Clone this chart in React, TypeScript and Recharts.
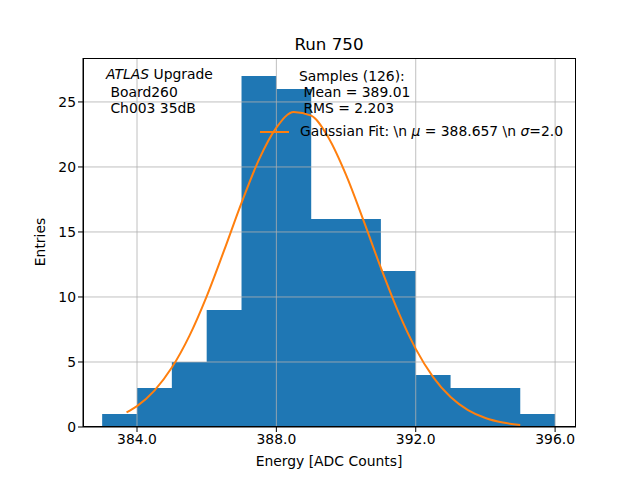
import React from 'react';
import { ComposedChart, Area, Line, XAxis, YAxis, ReferenceLine } from 'recharts';

// histogram bins (width 1 ADC count)
const binEdges = [383, 384, 385, 386, 387, 388, 389, 390, 391, 392, 393, 394, 395, 396];
const binCounts = [1, 3, 5, 9, 27, 26, 16, 16, 12, 4, 3, 3, 1];

// gaussian fit curve
const fitX = [383.7, 384.0, 384.5, 385.0, 385.5, 386.0, 386.5, 387.0, 387.5, 388.0, 388.5, 389.0,
    389.5, 390.0, 390.5, 391.0, 391.5, 392.0, 392.5, 393.0, 393.5, 394.0, 394.5, 395.0];
const fitY = [1.13, 1.61, 2.8, 4.57, 6.99, 10.05, 13.58, 17.24, 20.56, 23.02, 24.23, 23.95,
    22.23, 19.39, 15.89, 12.24, 8.85, 6.01, 3.84, 2.3, 1.3, 0.69, 0.34, 0.16];

const xTicks = [384, 388, 392, 396];
const yTicks = [0, 5, 10, 15, 20, 25];

const FONT = '"DejaVu Sans", sans-serif';
const GRID = '#b0b0b0';
const FS = 13.9;

const histData = binEdges.map((e, i) => ({ x: e, count: binCounts[Math.min(i, binCounts.length - 1)] }));
const fitData = fitX.map((x, i) => ({ x, y: fitY[i] }));

const text: React.CSSProperties = { position: 'absolute', fontFamily: FONT, fontSize: FS, color: '#000', whiteSpace: 'pre', lineHeight: '16px' };

export default function App() {
    return (
        <div style={{ position: 'absolute', left: 0, top: 0, width: 640, height: 480, background: '#fff' }}>
            <ComposedChart
                width={640}
                height={480}
                margin={{ top: 58, right: 64, bottom: 13, left: 33 }}
            >
                <XAxis
                    type="number"
                    dataKey="x"
                    domain={[382.45, 396.6]}
                    ticks={xTicks}
                    allowDataOverflow
                    tickFormatter={(v: number) => v.toFixed(1)}
                    height={40}
                    tickSize={5}
                    stroke="#000"
                    tick={{ fill: '#000', fontSize: FS, fontFamily: FONT }}
                />
                <YAxis
                    type="number"
                    domain={[0, 28.38]}
                    ticks={yTicks}
                    allowDataOverflow
                    width={50}
                    tickSize={5}
                    stroke="#000"
                    tick={{ fill: '#000', fontSize: FS, fontFamily: FONT }}
                />
                <Area
                    data={histData}
                    dataKey="count"
                    type="stepAfter"
                    fill="#1f77b4"
                    fillOpacity={1}
                    stroke="none"
                    isAnimationActive={false}
                />
                {xTicks.map(t => (
                    <ReferenceLine key={`gx-${t}`} x={t} stroke={GRID} strokeWidth={0.8} />
                ))}
                {yTicks.filter(t => t > 0).map(t => (
                    <ReferenceLine key={`gy-${t}`} y={t} stroke={GRID} strokeWidth={0.8} />
                ))}
                <Line
                    data={fitData}
                    dataKey="y"
                    type="monotone"
                    stroke="#ff7f0e"
                    strokeWidth={2}
                    dot={false}
                    isAnimationActive={false}
                />
            </ComposedChart>

            {/* axes frame */}
            <div style={{ position: 'absolute', left: 83, top: 58, width: 493, height: 369, border: '1px solid #000', boxSizing: 'border-box', pointerEvents: 'none' }} />

            <div style={{ ...text, left: 0, width: 658, top: 34, textAlign: 'center', fontSize: 16.7, lineHeight: '20px' }}>Run 750</div>
            <div style={{ ...text, left: 0, width: 658, top: 453, textAlign: 'center' }}>Energy [ADC Counts]</div>
            <div style={{ ...text, left: 40, top: 242, transform: 'translate(-50%, -50%) rotate(-90deg)' }}>Entries</div>

            <div style={{ ...text, left: 106, top: 66 }}><i>ATLAS</i> Upgrade</div>
            <div style={{ ...text, left: 106, top: 84 }}>{' Board260'}</div>
            <div style={{ ...text, left: 106, top: 100 }}>{' Ch003 35dB'}</div>

            <div style={{ ...text, left: 299, top: 68 }}>Samples (126):</div>
            <div style={{ ...text, left: 299, top: 84 }}>{' Mean = 389.01'}</div>
            <div style={{ ...text, left: 299, top: 100 }}>{' RMS = 2.203'}</div>

            <svg style={{ position: 'absolute', left: 258, top: 126 }} width={34} height={12}>
                <line x1={2} y1={6} x2={31} y2={6} stroke="#ff7f0e" strokeWidth={2} />
            </svg>
            <div style={{ ...text, left: 300, top: 123 }}>
                {'Gaussian Fit: \\n '}<i>μ</i>{' = 388.657 \\n '}<i>σ</i>{'=2.0'}
            </div>
        </div>
    );
}
